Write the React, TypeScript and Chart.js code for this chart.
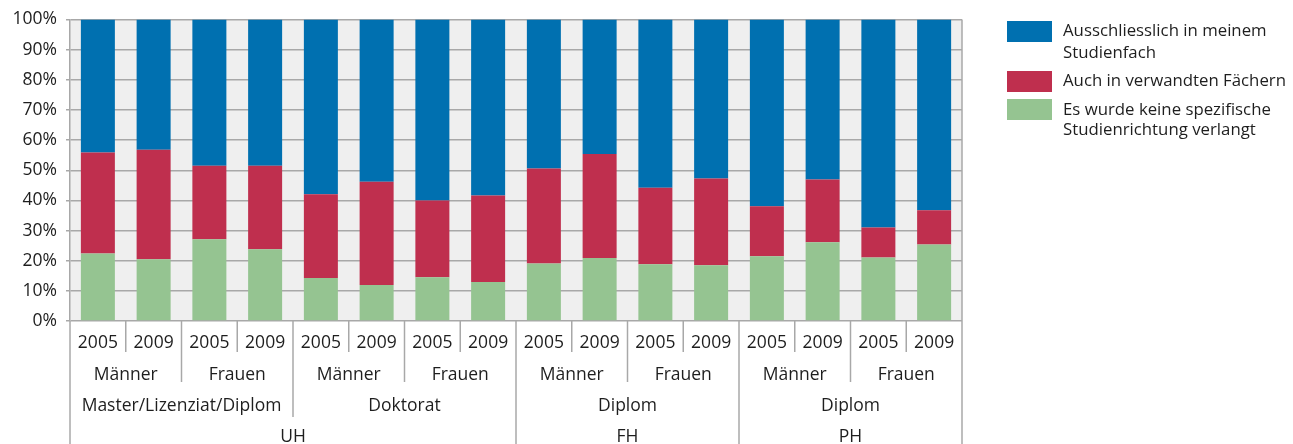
import React, { useEffect, useRef } from "react";
import { Chart, registerables } from "chart.js";

Chart.register(...registerables);

const years = ["2005", "2009", "2005", "2009", "2005", "2009", "2005", "2009", "2005", "2009", "2005", "2009", "2005", "2009", "2005", "2009"];
const genders = ["Männer", "Frauen", "Männer", "Frauen", "Männer", "Frauen", "Männer", "Frauen"];
const degrees = ["Master/Lizenziat/Diplom", "Doktorat", "Diplom", "Diplom"];
const degreeSpans = [4, 4, 4, 4];
const types = ["UH", "FH", "PH"];
const typeSpans = [8, 4, 4];

const greenValues = [22.4, 20.5, 27.1, 23.8, 14.3, 11.9, 14.5, 12.9, 19.1, 20.9, 18.8, 18.5, 21.5, 26.1, 21.1, 25.4];
const redValues = [33.5, 36.3, 24.4, 27.7, 27.7, 34.3, 25.5, 28.7, 31.5, 34.5, 25.4, 28.8, 16.6, 20.8, 9.9, 11.3];
const blueValues = [44.1, 43.2, 48.5, 48.5, 58.0, 53.8, 60.0, 58.4, 49.4, 44.6, 55.8, 52.7, 61.9, 53.1, 69.0, 63.3];

const seriesLabels = [
  "Ausschliesslich in meinem Studienfach",
  "Auch in verwandten Fächern",
  "Es wurde keine spezifische Studienrichtung verlangt",
];
const legendLines = [
  ["Ausschliesslich in meinem", "Studienfach"],
  ["Auch in verwandten Fächern"],
  ["Es wurde keine spezifische", "Studienrichtung verlangt"],
];

const BLUE = "#0070B0";
const RED = "#BF2F4E";
const GREEN = "#95C491";
const GRID = "#A8A8A8";
const TEXT = "#1e1e1e";
const FONT = "'Open Sans', 'DejaVu Sans', sans-serif";

const customPlugin = {
  id: "customDecor",
  beforeDraw(chart: any) {
    const { ctx, chartArea } = chart;
    ctx.save();
    ctx.fillStyle = "#EFEFEF";
    ctx.fillRect(chartArea.left, chartArea.top, chartArea.right - chartArea.left, chartArea.bottom - chartArea.top);
    ctx.restore();
  },
  afterDraw(chart: any) {
    const { ctx, chartArea } = chart;
    const x = chart.scales.x;
    const n = years.length;
    const cw = (chartArea.right - chartArea.left) / n;
    const bx = (i: number) => x.getPixelForValue(i) - cw / 2;
    const bottom = chartArea.bottom;
    const H = chart.height;
    ctx.save();
    ctx.strokeStyle = GRID;
    ctx.lineWidth = 1.5;
    const vline = (px: number, y0: number, y1: number) => {
      ctx.beginPath();
      ctx.moveTo(px, y0);
      ctx.lineTo(px, y1);
      ctx.stroke();
    };
    vline(chartArea.right, chartArea.top, H);
    vline(chartArea.left, bottom, H);
    const rowEnds = [352, 382, 417, H];
    for (let i = 1; i < n; i++) {
      let level = 0;
      if (i % 2 === 0) level = 1;
      if (i % 4 === 0) level = 2;
      if (i % 8 === 0 || i === 12) level = 3;
      vline(bx(i), bottom, rowEnds[level]);
    }
    ctx.fillStyle = TEXT;
    ctx.textAlign = "center";
    ctx.textBaseline = "middle";
    ctx.font = `17.5px ${FONT}`;
    years.forEach((y, i) => ctx.fillText(y, bx(i) + cw / 2, 343));
    genders.forEach((g, i) => ctx.fillText(g, bx(i * 2) + cw, 375));
    let s = 0;
    degrees.forEach((d, i) => {
      const span = degreeSpans[i];
      ctx.fillText(d, bx(s) + (cw * span) / 2, 406);
      s += span;
    });
    s = 0;
    types.forEach((t, i) => {
      const span = typeSpans[i];
      ctx.fillText(t, bx(s) + (cw * span) / 2, 437);
      s += span;
    });
    const colors = [BLUE, RED, GREEN];
    const swTop = [21, 71, 99];
    const lineY = [[31.7, 53], [81.7], [110, 130.5]];
    ctx.textAlign = "left";
    ctx.font = `16.8px ${FONT}`;
    colors.forEach((c, i) => {
      ctx.fillStyle = c;
      ctx.fillRect(1007, swTop[i], 45, 21);
      ctx.fillStyle = TEXT;
      legendLines[i].forEach((ln, j) => ctx.fillText(ln, 1063, lineY[i][j]));
    });
    ctx.restore();
  },
};

export default function App() {
  const ref = useRef<HTMLCanvasElement | null>(null);
  useEffect(() => {
    document.body.style.margin = "0";
    if (!ref.current) return;
    const chart = new Chart(ref.current, {
      type: "bar",
      data: {
        labels: years.map((y, i) => `${y}-${i}`),
        datasets: [
          { label: seriesLabels[2], data: greenValues, backgroundColor: GREEN },
          { label: seriesLabels[1], data: redValues, backgroundColor: RED },
          { label: seriesLabels[0], data: blueValues, backgroundColor: BLUE },
        ],
      },
      options: {
        animation: false,
        responsive: false,
        layout: { padding: { left: 0, top: 18, right: 331, bottom: 123 } },
        datasets: { bar: { categoryPercentage: 1, barPercentage: 0.61 } },
        plugins: { legend: { display: false }, tooltip: { enabled: false } },
        scales: {
          x: { stacked: true, display: false },
          y: {
            stacked: true,
            min: 0,
            max: 100,
            afterFit: (s: any) => {
              s.width = 70;
            },
            border: { display: true, color: GRID, width: 1.5 },
            grid: { color: GRID, lineWidth: 1.5, tickLength: 4 },
            ticks: {
              stepSize: 10,
              padding: 9,
              color: TEXT,
              font: { family: FONT, size: 17.5 },
              callback: (v: any) => `${v}%`,
            },
          },
        },
      },
      plugins: [customPlugin],
    });
    return () => chart.destroy();
  }, []);
  return (
    <div style={{ width: 1293, height: 444, overflow: "hidden" }}>
      <canvas ref={ref} width={1293} height={444} style={{ display: "block" }} />
    </div>
  );
}
